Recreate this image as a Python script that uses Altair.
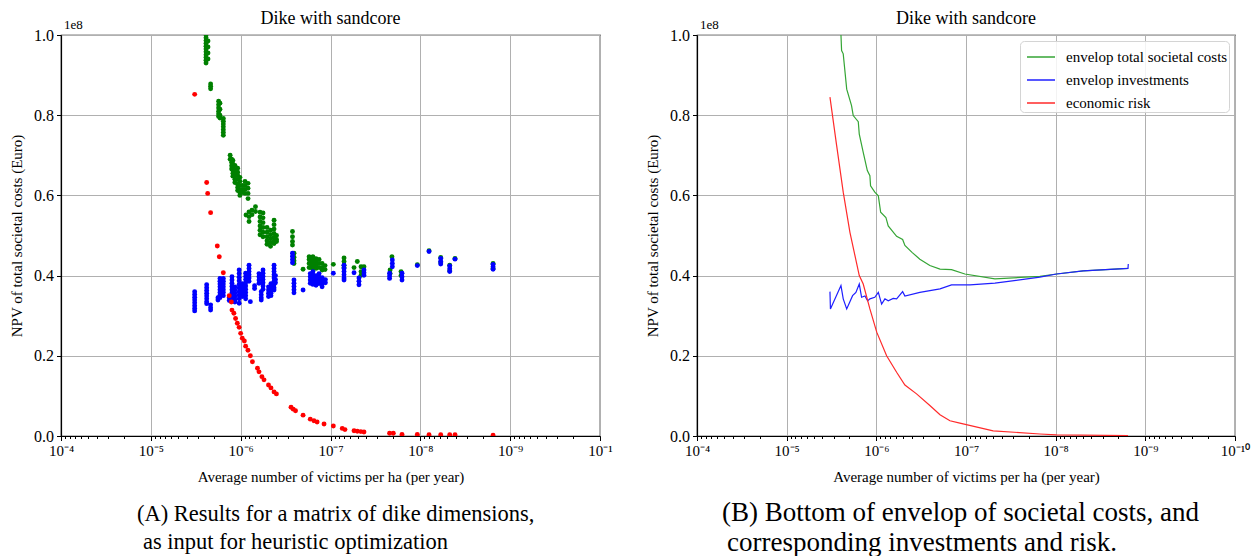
import altair as alt
import pandas as pd

FONT = "Liberation Serif"

# ---------------- Panel (A): results for a matrix of dike dimensions ----------------
# x = average number of victims per ha per year, y = NPV in units of 1e8 Euro
green_cols = [
    (2.43e-6, [1.0, 0.993, 0.986, 0.979, 0.972, 0.965, 0.958, 0.951, 0.944, 0.937, 0.93]),
    (2.31e-6, [0.985, 0.97, 0.955, 0.94]),
    (2.16e-6, [0.878, 0.872, 0.866]),
    (1.76e-6, [0.835, 0.826, 0.818, 0.81, 0.803, 0.797]),
    (1.70e-6, [0.83, 0.815, 0.80, 0.793]),
    (1.56e-6, [0.792, 0.785, 0.778, 0.771, 0.764, 0.757, 0.75]),
    (1.31e-6, [0.70, 0.69]),
    (1.26e-6, [0.69, 0.682, 0.674, 0.666]),
    (1.22e-6, [0.687, 0.678, 0.67, 0.662, 0.655, 0.648]),
    (1.16e-6, [0.675, 0.665, 0.657, 0.648, 0.64, 0.632]),
    (1.08e-6, [0.668, 0.658, 0.65, 0.64, 0.628, 0.62, 0.612]),
    (1.02e-6, [0.645, 0.635, 0.625, 0.615, 0.607, 0.6]),
    (9.5e-7, [0.625, 0.615, 0.607]),
    (8.95e-7, [0.635, 0.625, 0.615, 0.605]),
    (8.28e-7, [0.63, 0.618, 0.605, 0.592]),
    (8.72e-7, [0.551]),
    (8.07e-7, [0.559, 0.547, 0.535]),
    (7.48e-7, [0.563, 0.552]),
    (6.84e-7, [0.572, 0.56]),
    (6.09e-7, [0.558, 0.546, 0.535, 0.524, 0.513, 0.502]),
    (5.64e-7, [0.556, 0.544, 0.532, 0.52, 0.508, 0.497]),
    (5.09e-7, [0.52, 0.508, 0.497, 0.487, 0.478]),
    (4.65e-7, [0.513, 0.502, 0.492, 0.482, 0.473]),
    (4.25e-7, [0.538, 0.527, 0.516, 0.505, 0.495, 0.486, 0.48]),
    (3.99e-7, [0.50, 0.49, 0.485]),
    (2.65e-7, [0.51, 0.497, 0.485, 0.476]),
    (2.55e-7, [0.456, 0.446, 0.437, 0.43]),
    (2.02e-7, [0.416]),
    (1.73e-7, [0.447, 0.44, 0.43, 0.42]),
    (1.65e-7, [0.445, 0.437, 0.428, 0.42]),
    (1.57e-7, [0.447, 0.44, 0.432, 0.425, 0.418]),
    (1.45e-7, [0.442, 0.435, 0.426, 0.418]),
    (1.34e-7, [0.44, 0.43, 0.42]),
    (1.24e-7, [0.43, 0.42, 0.414]),
    (1.15e-7, [0.425, 0.415]),
    (9.3e-8, [0.428]),
    (7.07e-8, [0.444, 0.435, 0.426, 0.42]),
    (5.47e-8, [0.42]),
    (5.03e-8, [0.435]),
    (4.57e-8, [0.422, 0.41, 0.401]),
    (4.24e-8, [0.422]),
    (2.17e-8, [0.414, 0.405]),
    (2.07e-8, [0.447]),
    (1.64e-8, [0.41, 0.40]),
    (1.08e-8, [0.427]),
    (8.0e-9, [0.462]),
    (5.93e-9, [0.445, 0.432]),
    (4.71e-9, [0.426, 0.412]),
    (4.11e-9, [0.443]),
    (1.55e-9, [0.43, 0.418]),
]

blue_cols = [
    (3.25e-6, [0.36, 0.353, 0.346, 0.339, 0.332, 0.325, 0.318, 0.312]),
    (2.39e-6, [0.377, 0.37, 0.363, 0.356, 0.349, 0.342, 0.335, 0.33]),
    (2.16e-6, [0.327, 0.32, 0.314]),
    (1.79e-6, [0.345, 0.339]),
    (1.70e-6, [0.393, 0.386, 0.379, 0.372, 0.365, 0.358, 0.351, 0.345]),
    (1.56e-6, [0.393, 0.386, 0.379, 0.372, 0.365, 0.358, 0.35]),
    (1.34e-6, [0.345, 0.338]),
    (1.25e-6, [0.397, 0.389, 0.381, 0.373, 0.365, 0.357, 0.35, 0.343]),
    (1.16e-6, [0.372, 0.364, 0.356, 0.348, 0.34, 0.334]),
    (1.04e-6, [0.414, 0.405, 0.396, 0.387, 0.378, 0.369, 0.36, 0.351, 0.342, 0.331]),
    (9.6e-7, [0.38, 0.372, 0.364, 0.356, 0.348]),
    (8.8e-7, [0.406, 0.398, 0.39, 0.382, 0.374, 0.366, 0.358, 0.35, 0.342]),
    (8.07e-7, [0.426, 0.418, 0.41, 0.402, 0.394, 0.386]),
    (7.8e-7, [0.335]),
    (7.0e-7, [0.375, 0.368]),
    (6.25e-7, [0.405, 0.397, 0.389, 0.381]),
    (5.9e-7, [0.36, 0.352, 0.345, 0.339]),
    (5.64e-7, [0.414, 0.406, 0.398, 0.39, 0.382, 0.374, 0.366]),
    (4.9e-7, [0.372, 0.364, 0.356, 0.348]),
    (4.6e-7, [0.38, 0.372, 0.364, 0.356, 0.35]),
    (4.25e-7, [0.426, 0.418, 0.41, 0.402, 0.394, 0.386, 0.378, 0.37, 0.364]),
    (4.1e-7, [0.40, 0.39, 0.382]),
    (2.65e-7, [0.456, 0.448, 0.44, 0.432]),
    (2.55e-7, [0.389, 0.381, 0.373, 0.365, 0.357]),
    (2.02e-7, [0.364]),
    (1.68e-7, [0.405, 0.397, 0.389, 0.381]),
    (1.57e-7, [0.41, 0.402, 0.394, 0.386, 0.378]),
    (1.45e-7, [0.40, 0.392, 0.384, 0.376]),
    (1.34e-7, [0.405, 0.396, 0.388, 0.38]),
    (1.24e-7, [0.395, 0.387, 0.379, 0.372]),
    (1.14e-7, [0.39, 0.382]),
    (9.3e-8, [0.406]),
    (7.07e-8, [0.426, 0.418, 0.41, 0.402, 0.394, 0.389]),
    (5.47e-8, [0.407]),
    (4.82e-8, [0.394, 0.386, 0.377]),
    (4.24e-8, [0.414, 0.407, 0.401]),
    (2.2e-8, [0.406, 0.399, 0.393]),
    (2.05e-8, [0.439, 0.43, 0.422]),
    (1.6e-8, [0.406, 0.397, 0.389]),
    (1.08e-8, [0.425]),
    (8.0e-9, [0.46]),
    (5.93e-9, [0.443, 0.436, 0.429]),
    (4.71e-9, [0.424, 0.417, 0.41]),
    (4.11e-9, [0.441]),
    (1.55e-9, [0.428, 0.422, 0.416]),
]

red_x = [3.25e-6, 2.39e-6, 2.33e-6, 2.16e-6, 1.82e-6, 1.73e-6, 1.56e-6, 1.34e-6, 1.27e-6,
         1.25e-6, 1.19e-6, 1.14e-6, 1.09e-6, 1.04e-6, 1.0e-6, 9.6e-7, 9.1e-7, 8.8e-7, 8.3e-7,
         7.8e-7, 7.4e-7, 6.5e-7, 6.25e-7, 5.8e-7, 5.5e-7, 4.9e-7, 4.6e-7, 4.25e-7, 4.0e-7,
         2.75e-7, 2.6e-7, 2.45e-7, 2.02e-7, 1.68e-7, 1.53e-7, 1.41e-7, 1.18e-7, 9.3e-8,
         7.4e-8, 6.9e-8, 5.47e-8, 5.03e-8, 4.6e-8, 4.24e-8, 2.2e-8, 2.0e-8, 1.6e-8, 1.08e-8,
         8.0e-9, 5.93e-9, 4.71e-9, 4.11e-9, 1.55e-9]
red_y = [0.852, 0.632, 0.605, 0.557, 0.474, 0.447, 0.407, 0.35, 0.334,
         0.314, 0.306, 0.293, 0.281, 0.271, 0.256, 0.244, 0.237, 0.224, 0.214,
         0.20, 0.185, 0.169, 0.16, 0.148, 0.14, 0.127, 0.12, 0.11, 0.105,
         0.072, 0.067, 0.063, 0.052, 0.042, 0.038, 0.035, 0.03, 0.025,
         0.019, 0.016, 0.013, 0.012, 0.011, 0.01, 0.007, 0.007, 0.004, 0.004,
         0.003, 0.003, 0.003, 0.003, 0.002]

# ---------------- Panel (B): envelopes ----------------
series_names = ["envelop total societal costs", "envelop investments", "economic risk"]
series_colors = ["#35a535", "#1f1fff", "#ff2a2a"]

env_total_x = [2.48e-6, 2.44e-6, 2.34e-6, 2.14e-6, 1.89e-6, 1.81e-6, 1.59e-6, 1.55e-6, 1.40e-6,
               1.26e-6, 1.18e-6, 1.16e-6, 1.04e-6, 9.5e-7, 8.95e-7, 7.82e-7, 7.37e-7, 5.94e-7,
               5.09e-7, 4.8e-7, 4.0e-7, 3.27e-7, 2.53e-7, 1.95e-7, 1.45e-7, 1.03e-7, 4.76e-8,
               1.5e-8, 9.77e-9, 4.93e-9, 1.56e-9]
env_total_y = [1.0, 0.961, 0.953, 0.865, 0.824, 0.799, 0.784, 0.753, 0.707,
               0.662, 0.649, 0.624, 0.608, 0.599, 0.558, 0.545, 0.524, 0.498,
               0.49, 0.475, 0.458, 0.441, 0.425, 0.416, 0.415, 0.404, 0.392,
               0.398, 0.404, 0.412, 0.418]

env_invest_x = [3.29e-6, 3.25e-6, 2.48e-6, 2.34e-6, 2.14e-6, 1.84e-6, 1.69e-6, 1.55e-6, 1.46e-6,
                1.34e-6, 1.25e-6, 1.18e-6, 1.04e-6, 9.5e-7, 8.73e-7, 8.02e-7, 7.37e-7, 6.48e-7,
                5.94e-7, 5.09e-7, 4.8e-7, 3.27e-7, 1.95e-7, 1.45e-7, 9.05e-8, 4.76e-8, 1.5e-8,
                9.77e-9, 4.93e-9, 1.56e-9, 1.55e-9]
env_invest_y = [0.36, 0.317, 0.375, 0.342, 0.317, 0.35, 0.358, 0.379, 0.346,
                0.349, 0.337, 0.342, 0.346, 0.358, 0.329, 0.342, 0.337, 0.343,
                0.342, 0.36, 0.349, 0.358, 0.367, 0.377, 0.377, 0.381, 0.396,
                0.404, 0.412, 0.418, 0.429]

econ_risk_x = [3.29e-6, 2.77e-6, 2.34e-6, 1.97e-6, 1.55e-6, 1.40e-6, 1.18e-6, 9.9e-7, 7.68e-7,
               5.94e-7, 4.8e-7, 3.56e-7, 2.53e-7, 1.95e-7, 1.51e-7, 1.17e-7, 4.98e-8, 1.5e-8,
               9.77e-9, 1.56e-9]
econ_risk_y = [0.845, 0.724, 0.608, 0.508, 0.40, 0.379, 0.317, 0.259, 0.20,
               0.159, 0.127, 0.105, 0.076, 0.053, 0.038, 0.032, 0.013, 0.005,
               0.003, 0.001]

major_vals = [1e-4, 1e-5, 1e-6, 1e-7, 1e-8, 1e-9, 1e-10]
minor_vals = [k * 10.0 ** e for e in range(-10, -4) for k in range(2, 10)]

# ---------------- helpers ----------------
def cols_df(cols):
    return pd.DataFrame([{"x": x, "y": y} for x, ys in cols for y in ys])

L = "(log(datum.value)/LN10)"
MAJOR = f"abs({L} - round({L})) < 0.01"

def label_expr(last):
    sup = {4: "⁴", 5: "⁵", 6: "⁶", 7: "⁷", 8: "⁸", 9: "⁹", 10: last}
    expr = "''"
    for e in range(10, 3, -1):
        expr = f"round({L}) == {-e} ? '10⁻{sup[e]}' : ({expr})"
    return f"{MAJOR} ? ({expr}) : ''"

def x_enc(last):
    return alt.X(
        "x:Q",
        scale=alt.Scale(type="log", domain=[1e-10, 1e-4], reverse=True, nice=False),
        axis=alt.Axis(
            values=major_vals + minor_vals,
            labelExpr=label_expr(last),
            title="Average number of victims per ha (per year)",
            tickSize={"condition": {"test": MAJOR, "value": 4.5}, "value": 2.5},
            gridOpacity={"condition": {"test": MAJOR, "value": 1}, "value": 0},
            labelOverlap=False, labelFlush=False, labelBound=False,
            labelFontSize=15, labelPadding=3, titlePadding=11,
        ),
    )

y_enc = alt.Y(
    "y:Q",
    scale=alt.Scale(domain=[0, 1], nice=False),
    axis=alt.Axis(values=[0, 0.2, 0.4, 0.6, 0.8, 1.0], format=".1f",
                  title="NPV of total societal costs (Euro)", tickSize=4.5,
                  labelPadding=3, titlePadding=9, labelFontSize=16),
)

title = alt.TitleParams("Dike with sandcore", font=FONT, fontSize=18, fontWeight="normal",
                        offset=-9, anchor="middle", frame="group", color="black")

def text_layer(txt, x, y, size, align="left"):
    return alt.Chart(pd.DataFrame({"t": [txt]})).mark_text(
        font=FONT, fontSize=size, align=align, baseline="middle", color="black"
    ).encode(x=alt.value(x), y=alt.value(y), text="t:N")

# ---------------- Panel A ----------------
xa = x_enc("¹")
pts_g = alt.Chart(cols_df(green_cols)).mark_circle(size=24, opacity=1, color="#008000", clip=True).encode(x=xa, y=y_enc)
pts_b = alt.Chart(cols_df(blue_cols)).mark_circle(size=24, opacity=1, color="#0000ff", clip=True).encode(x=xa, y=y_enc)
pts_r = alt.Chart(pd.DataFrame({"x": red_x, "y": red_y})).mark_circle(size=24, opacity=1, color="#ff0000", clip=True).encode(x=xa, y=y_enc)

left = alt.layer(
    pts_g, pts_b, pts_r,
    text_layer("1e8", 3, -10, 13),
    text_layer("(A) Results for a matrix of dike dimensions,", 76, 479, 22.5),
    text_layer("as input for heuristic optimization", 82, 507, 22.5),
).properties(width=539, height=401, title=title)

# ---------------- Panel B ----------------
xb = x_enc("¹⁰")
color = alt.Color(
    "s:N",
    scale=alt.Scale(domain=series_names, range=series_colors),
    legend=alt.Legend(
        title=None, orient="top-right", offset=6, symbolType="stroke", symbolSize=784,
        symbolStrokeWidth=1.5, symbolOffset=5, labelFont=FONT, labelFontSize=15, labelOffset=10,
        padding=1, rowPadding=-2.5, fillColor="rgba(255,255,255,0.85)", strokeColor="#d4d4d4",
        cornerRadius=4, labelLimit=400, labelColor="black",
    ),
)

def line_layer(xs, ys, name):
    df = pd.DataFrame({"x": xs, "y": ys, "i": list(range(len(xs))), "s": name})
    return alt.Chart(df).mark_line(strokeWidth=1.2, clip=True).encode(
        x=xb, y=y_enc, color=color, order="i:Q"
    )

right = alt.layer(
    line_layer(env_total_x, env_total_y, series_names[0]),
    line_layer(env_invest_x, env_invest_y, series_names[1]),
    line_layer(econ_risk_x, econ_risk_y, series_names[2]),
    text_layer("1e8", 3, -10, 13),
    text_layer("(B) Bottom of envelop of societal costs, and", 25, 478, 27),
    text_layer("corresponding investments and risk.", 30, 508, 27),
).properties(width=538, height=401, title=title)

chart = alt.hconcat(left, right, spacing=31).resolve_legend(color="independent").resolve_scale(color="independent").properties(
    background="white", padding={"left": 8, "top": 9, "right": 0, "bottom": 0}
).configure_axis(
    labelFont=FONT, titleFont=FONT, titleFontSize=15, titleFontWeight="normal",
    labelColor="black", titleColor="black", tickColor="black", domainColor="black",
    gridColor="#b0b0b0", gridWidth=1, domainWidth=1.2, tickWidth=1,
).configure_view(stroke="black", strokeWidth=1.2)

chart.save("out.html", embed_options={"renderer": "svg", "actions": False})
